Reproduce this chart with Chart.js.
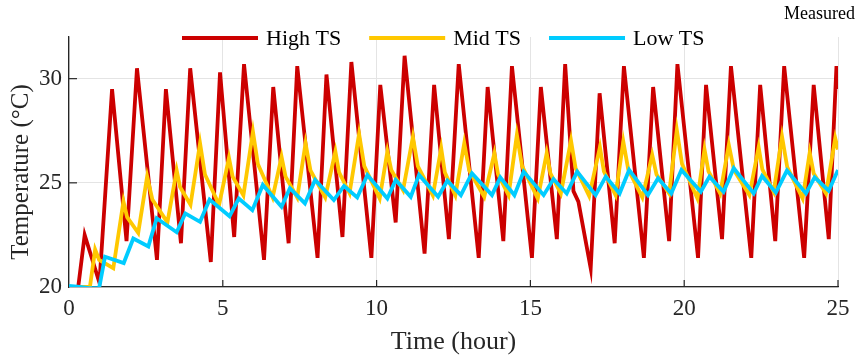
<!DOCTYPE html>
<html>
<head>
<meta charset="utf-8">
<script src="https://cdn.jsdelivr.net/npm/chart.js@4.4.1/dist/chart.umd.min.js"></script>
<style>
  html, body { margin: 0; padding: 0; background: #fff; }
</style>
</head>
<body>
<canvas id="chart" width="859" height="359"></canvas>
<script>
// Room temperature for three thermal-storage levels (hour, °C)
const seriesLabels = ['High TS', 'Mid TS', 'Low TS'];
const seriesColors = ['rgb(204, 0, 0)', 'rgb(255, 200, 0)', 'rgb(0, 204, 255)'];

const highTime = [0, 0.30, 0.51, 0.99, 1.40, 1.87, 2.21, 2.86, 3.15, 3.64, 3.94, 4.61, 4.91, 5.37, 5.69,
  6.34, 6.64, 7.14, 7.42, 8.08, 8.37, 8.89, 9.18, 9.83, 10.12, 10.62, 10.91, 11.56, 11.87, 12.35,
  12.67, 13.32, 13.61, 14.12, 14.40, 15.05, 15.34, 15.86, 16.13, 16.40, 16.56, 16.96, 17.25, 17.74,
  18.04, 18.69, 18.99, 19.51, 19.78, 20.45, 20.71, 21.23, 21.52, 22.18, 22.47, 22.96, 23.25, 23.90,
  24.21, 24.70, 24.95, 25.0];
const highTemp = [20.0, 20.0, 22.5, 20.2, 29.5, 22.2, 30.5, 21.3, 29.5, 22.1, 30.5, 21.2, 30.3, 22.4, 30.7,
  21.3, 29.6, 22.1, 30.6, 21.4, 30.2, 22.4, 30.8, 21.4, 29.7, 23.1, 31.1, 21.6, 29.7, 22.3,
  30.7, 21.4, 29.6, 22.2, 30.6, 21.4, 29.6, 22.3, 30.7, 24.6, 24.1, 20.9, 29.3, 22.1,
  30.6, 21.4, 29.6, 22.2, 30.7, 21.4, 29.7, 22.3, 30.6, 21.4, 29.7, 22.2, 30.6, 21.4,
  29.7, 22.3, 30.6, 29.5];

const midTime = [0, 0.68, 0.85, 0.98, 1.44, 1.77, 1.89, 2.25, 2.54, 2.71, 3.20, 3.50, 3.61, 3.95,
  4.26, 4.42, 4.88, 5.20, 5.32, 5.67, 5.98, 6.14, 6.62, 6.91, 7.04, 7.42, 7.69, 7.85, 8.33,
  8.66, 8.78, 9.12, 9.43, 9.60, 10.10, 10.35, 10.48, 10.86, 11.18, 11.34, 11.83, 12.10, 12.22, 12.56,
  12.85, 13.01, 13.50, 13.83, 13.95, 14.29, 14.56, 14.73, 15.24, 15.53, 15.65, 15.99, 16.32, 16.47, 16.91,
  17.26, 17.39, 17.77, 18.02, 18.18, 18.64, 18.96, 19.10, 19.51, 19.76, 19.93, 20.43, 20.66, 20.79, 21.17,
  21.45, 21.62, 22.12, 22.42, 22.54, 22.91, 23.18, 23.35, 23.85, 24.08, 24.21, 24.61, 24.91, 25.0];
const midTemp = [20.0, 20.0, 21.8, 21.3, 20.9, 24.1, 23.35, 22.6, 25.3, 24.2, 23.1, 25.6, 24.8, 23.95,
  26.9, 25.4, 23.95, 26.2, 25.3, 24.4, 27.45, 25.9, 24.3, 26.25, 25.3, 24.3, 26.9, 25.6, 24.3,
  26.5, 25.5, 24.5, 27.35, 25.8, 24.25, 26.5, 25.6, 24.65, 27.2, 25.8, 24.4, 26.66, 25.5, 24.4,
  26.9, 25.6, 24.33, 26.42, 25.4, 24.41, 27.3, 25.8, 24.25, 26.42, 25.45, 24.49, 27.03, 25.7, 24.37,
  26.71, 25.55, 24.41, 26.98, 25.65, 24.3, 26.34, 25.4, 24.49, 27.54, 25.9, 24.25, 26.61, 25.55, 24.49,
  26.82, 25.6, 24.41, 26.71, 25.65, 24.57, 27.22, 25.75, 24.25, 26.45, 25.45, 24.49, 27.14, 26.6];

const lowTime = [0, 0.35, 0.65, 0.98, 1.17, 1.78, 2.09, 2.58, 2.85, 3.50, 3.78, 4.26, 4.57, 5.22, 5.52,
  5.96, 6.30, 6.91, 7.18, 7.67, 8.00, 8.61, 8.94, 9.37, 9.70, 10.35, 10.62, 11.11, 11.38, 12.00,
  12.30, 12.74, 13.10, 13.75, 14.02, 14.48, 14.78, 15.43, 15.75, 16.18, 16.52, 17.12, 17.45, 17.90,
  18.21, 18.82, 19.15, 19.58, 19.91, 20.54, 20.82, 21.28, 21.61, 22.26, 22.53, 22.98, 23.34, 23.96,
  24.24, 24.70, 25.0];
const lowTemp = [20.05, 20.0, 19.95, 19.95, 21.45, 21.15, 22.33, 21.95, 23.3, 22.63, 23.53, 23.13, 24.2, 23.4, 24.25,
  23.69, 24.9, 23.85, 24.74, 24.01, 25.14, 24.17, 24.85, 24.3, 25.38, 24.25, 25.14, 24.33, 25.38, 24.33,
  25.1, 24.41, 25.46, 24.41, 25.26, 24.41, 25.54, 24.41, 25.18, 24.49, 25.54, 24.41, 25.3, 24.49,
  25.62, 24.41, 25.22, 24.49, 25.62, 24.57, 25.3, 24.57, 25.7, 24.49, 25.33, 24.53, 25.59, 24.49,
  25.26, 24.62, 25.62];

const xTicks = [0, 5, 10, 15, 20, 25];
const yTicks = [20, 25, 30];

const serif = "'Liberation Serif', 'Times New Roman', serif";
const ink = '#262626';

function toPoints(times, temps) {
  return times.map((t, i) => ({ x: t, y: temps[i] }));
}

const seriesData = [
  toPoints(highTime, highTemp),
  toPoints(midTime, midTemp),
  toPoints(lowTime, lowTemp)
];

// legend line samples, y title, the "Measured" tag and inward tick marks
const decorations = {
  id: 'decorations',
  afterDatasetsDraw(chart) {
    const ctx = chart.ctx;
    const { x, y } = chart.scales;
    const area = chart.chartArea;
    ctx.save();
    ctx.strokeStyle = ink;
    ctx.lineWidth = 1.2;
    xTicks.slice(1).forEach(v => {
      const px = x.getPixelForValue(v);
      ctx.beginPath();
      ctx.moveTo(px, area.bottom);
      ctx.lineTo(px, area.bottom - 7);
      ctx.stroke();
    });
    yTicks.slice(1).forEach(v => {
      const py = y.getPixelForValue(v);
      ctx.beginPath();
      ctx.moveTo(area.left, py);
      ctx.lineTo(area.left + 8, py);
      ctx.stroke();
    });
    ctx.restore();
  },
  afterDraw(chart) {
    const ctx = chart.ctx;
    ctx.save();
    ctx.font = '22px ' + serif;
    ctx.textBaseline = 'middle';
    ctx.textAlign = 'left';
    let lx = 182;
    const ly = 38;
    chart.data.datasets.forEach(ds => {
      ctx.strokeStyle = ds.borderColor;
      ctx.lineWidth = 4;
      ctx.beginPath();
      ctx.moveTo(lx, ly);
      ctx.lineTo(lx + 76, ly);
      ctx.stroke();
      ctx.fillStyle = '#000';
      ctx.fillText(ds.label, lx + 84, ly + 1);
      lx += 84 + ctx.measureText(ds.label).width + 28;
    });
    ctx.font = '18px ' + serif;
    ctx.textAlign = 'right';
    ctx.fillStyle = '#000';
    ctx.fillText('Measured', 855, 14);

    // y axis title, sits a little below the middle of the axis
    ctx.translate(21, 172);
    ctx.rotate(-Math.PI / 2);
    ctx.textAlign = 'center';
    ctx.font = '25px ' + serif;
    ctx.fillStyle = ink;
    ctx.fillText('Temperature (°C)', 0, 0);
    ctx.restore();
  }
};

new Chart(document.getElementById('chart'), {
  type: 'line',
  data: {
    datasets: seriesLabels.map((label, i) => ({
      label: label,
      data: seriesData[i],
      borderColor: seriesColors[i],
      backgroundColor: seriesColors[i],
      borderWidth: 3.8,
      pointRadius: 0,
      tension: 0,
      fill: false,
      order: 3 - i
    }))
  },
  options: {
    responsive: false,
    animation: false,
    layout: { padding: { left: 0, right: 21, top: 37, bottom: 0 } },
    plugins: {
      legend: { display: false },
      tooltip: { enabled: false }
    },
    scales: {
      x: {
        type: 'linear',
        min: 0,
        max: 25,
        afterBuildTicks: s => { s.ticks = xTicks.map(v => ({ value: v })); },
        afterFit: s => { s.height = 72; },
        ticks: { font: { family: serif, size: 23 }, color: ink, padding: 8, maxRotation: 0 },
        grid: { color: '#e4e4e4', lineWidth: 1, drawTicks: false },
        border: { color: ink, width: 1.3 },
        title: {
          display: true,
          text: 'Time (hour)',
          font: { family: serif, size: 26 },
          color: ink,
          padding: { top: 0, bottom: 1 }
        }
      },
      y: {
        min: 20,
        max: 32,
        afterBuildTicks: s => { s.ticks = yTicks.map(v => ({ value: v })); },
        afterFit: s => { s.width = 69; },
        ticks: { font: { family: serif, size: 23 }, color: ink, padding: 7 },
        grid: { color: '#e4e4e4', lineWidth: 1, drawTicks: false },
        border: { color: ink, width: 1.3 },
        title: { display: false }
      }
    }
  },
  plugins: [decorations]
});
</script>
</body>
</html>
